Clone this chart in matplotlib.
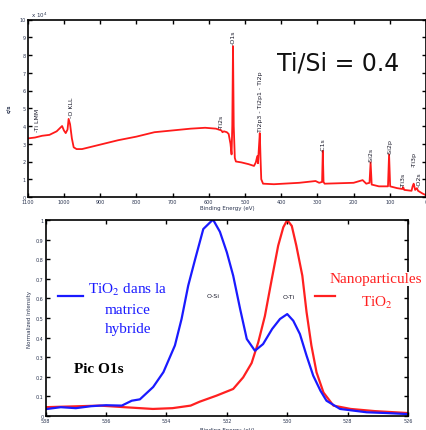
import matplotlib
matplotlib.use("Agg")
import matplotlib.pyplot as plt

# ---------------- data: survey spectrum (top) ----------------
survey_energy = [1100, 1080, 1060, 1040, 1020, 1010, 1005, 1000, 995, 990, 987, 983, 978, 973,
                 965, 950, 900, 850, 800, 750, 700, 650, 610, 580, 565, 562, 558, 550, 545,
                 540, 537, 535, 533, 531, 528, 525, 510, 490, 475, 470, 466, 464, 462, 459,
                 457, 455, 450, 420, 350, 305, 295, 287, 285, 283, 280, 200, 175, 165, 156,
                 153, 150, 130, 105, 102, 99, 80, 65, 63, 60, 40, 37, 34, 30, 25, 22, 10, 0]
survey_counts = [3.3, 3.35, 3.45, 3.5, 3.7, 3.9, 4.0, 3.75, 3.6, 3.8, 4.4, 4.1, 3.3, 2.8,
                 2.7, 2.7, 2.95, 3.2, 3.4, 3.65, 3.75, 3.85, 3.9, 3.85, 3.75, 3.65, 3.7, 3.65, 3.55,
                 3.0, 2.4, 4.0, 8.5, 4.0, 2.2, 2.0, 1.95, 1.85, 1.75, 1.95, 2.3, 1.9, 2.6, 3.6,
                 2.2, 1.0, 0.75, 0.72, 0.8, 0.9, 0.8, 0.85, 2.6, 0.85, 0.75, 0.8, 0.95, 0.75, 0.8,
                 1.95, 0.7, 0.6, 0.6, 2.4, 0.6, 0.5, 0.45, 0.55, 0.4, 0.35, 0.6, 0.75, 0.4, 0.5, 0.35, 0.2, 0.1]

peak_labels = ["-Ti LMM", "-O KLL", "-Ti2s", "-O1s", "Ti2p3 - Ti2p1 - Ti2p", "-C1s",
               "-Si2s", "-Si2p", "-Ti3s", "-Ti3p", "-O2s"]
peak_label_energy = [1074, 978, 565, 532, 458, 284, 152, 100, 63, 33, 18]
peak_label_height = [3.7, 4.5, 3.9, 8.6, 3.7, 2.6, 1.95, 2.4, 0.6, 1.75, 0.6]

survey_xticks = [1100, 1000, 900, 800, 700, 600, 500, 400, 300, 200, 100, 0]
survey_yticks = list(range(0, 11))

# ---------------- data: O1s high resolution (bottom) ----------------
blue_energy = [538.0, 537.5, 537.0, 536.5, 536.0, 535.48, 535.15, 534.88, 534.44, 534.1, 533.72,
               533.5, 533.28, 533.05, 532.78, 532.5, 532.45, 532.23, 532.0, 531.79, 531.56,
               531.34, 531.07, 530.8, 530.5, 530.24, 530.0, 529.8, 529.58, 529.36, 529.14,
               528.9, 528.7, 528.25, 527.37, 526.7, 526.04]
blue_int = [0.035, 0.045, 0.04, 0.05, 0.055, 0.053, 0.078, 0.085, 0.148, 0.224, 0.36,
            0.495, 0.665, 0.80, 0.954, 0.996, 1.0, 0.94, 0.835, 0.716, 0.546,
            0.393, 0.333, 0.367, 0.444, 0.495, 0.52, 0.486, 0.418, 0.308, 0.206,
            0.129, 0.078, 0.036, 0.019, 0.015, 0.01]

red_energy = [538.0, 536.2, 535.4, 534.45, 533.8, 533.2, 532.9, 532.34, 531.79, 531.46, 531.18,
              530.96, 530.74, 530.51, 530.3, 530.13, 530.0, 529.85, 529.7, 529.5, 529.36,
              529.2, 529.03, 528.8, 528.47, 527.9, 527.1, 526.0]
red_int = [0.045, 0.053, 0.045, 0.036, 0.04, 0.053, 0.073, 0.104, 0.138, 0.197, 0.27,
           0.376, 0.51, 0.70, 0.869, 0.963, 1.0, 0.97, 0.87, 0.716, 0.53,
           0.36, 0.223, 0.12, 0.053, 0.036, 0.025, 0.015]

o1s_xticks = [538, 536, 534, 532, 530, 528, 526]
o1s_yticks = [0, 0.1, 0.2, 0.3, 0.4, 0.5, 0.6, 0.7, 0.8, 0.9, 1.0]
o1s_yticklabels = ["0", "0.1", "0.2", "0.3", "0.4", "0.5", "0.6", "0.7", "0.8", "0.9", "1"]

# ---------------- figure ----------------
W, H = 427, 431
fig = plt.figure(figsize=(W / 100, H / 100), dpi=100)
fig.patch.set_facecolor("white")

tick_col = "#2b3550"
serif = ["Liberation Serif", "DejaVu Serif"]

def fx(px):
    return px / W

def fy(py):
    return 1 - py / H

# top axes
ax1 = fig.add_axes([fx(27.7), fy(198), (426 - 27.7) / W, (198 - 20.5) / H])
ax1.plot(survey_energy, survey_counts, color="#ff1a1a", lw=1.3)
ax1.set_xlim(1100, 0)
ax1.set_ylim(0, 10)
ax1.set_xticks(survey_xticks)
ax1.set_yticks(survey_yticks)
ax1.tick_params(direction="in", length=3, width=1, labelsize=3.5, colors="black",
                labelcolor=tick_col, top=True, right=True, pad=1.5)
for s in ax1.spines.values():
    s.set_linewidth(1.2)
ax1.set_xlabel("Binding Energy (eV)", fontsize=4, color=tick_col, labelpad=1)
ax1.set_ylabel("c/s", fontsize=4, color=tick_col, labelpad=6, fontweight="bold")
ax1.text(0.0, 1.005, "  x 10$^4$", transform=ax1.transAxes, fontsize=4, color=tick_col,
         ha="left", va="bottom")
for lab, e, h in zip(peak_labels, peak_label_energy, peak_label_height):
    ax1.text(e, h, lab, rotation=90, ha="center", va="bottom", fontsize=4.5,
             color="#1a1a2a")
ax1.text(0.78, 0.755, "Ti/Si = 0.4", fontsize=17, ha="center", va="center",
         color="#111111", transform=ax1.transAxes)

# bottom axes
ax2 = fig.add_axes([fx(45.7), fy(417), (408 - 45.7) / W, (417 - 221) / H])
ax2.plot(red_energy, red_int, color="#ff2020", lw=1.6)
ax2.plot(blue_energy, blue_int, color="#1a1aff", lw=1.6)
ax2.set_xlim(538, 526)
ax2.set_ylim(0, 1)
ax2.set_xticks(o1s_xticks)
ax2.set_yticks(o1s_yticks)
ax2.set_yticklabels(o1s_yticklabels)
ax2.tick_params(direction="in", length=3, width=1, labelsize=3.5, colors="black",
                labelcolor=tick_col, top=True, right=True, pad=1.5)
for s in ax2.spines.values():
    s.set_linewidth(1.2)
ax2.set_xlabel("Binding Energy (eV)", fontsize=4, color=tick_col, labelpad=3)
ax2.set_ylabel("Normalized Intensity", fontsize=4, color=tick_col, labelpad=3)

ax2.text(532.45, 0.615, "O-Si", fontsize=4.5, ha="center", va="center", color="#1a1a2a")
ax2.text(529.95, 0.61, "O-Ti", fontsize=4.5, ha="center", va="center", color="#1a1a2a")

# blue legend
fig.add_artist(plt.Line2D([fx(58), fx(83)], [fy(297), fy(297)], color="#1a1aff", lw=1.6))
fig.text(fx(128), fy(290), "TiO$_2$ dans la", fontsize=11, color="#1a1aff",
         ha="center", va="center", family=serif, math_fontfamily="stix")
fig.text(fx(128), fy(310), "matrice", fontsize=11, color="#1a1aff",
         ha="center", va="center", family=serif)
fig.text(fx(128), fy(329), "hybride", fontsize=11, color="#1a1aff",
         ha="center", va="center", family=serif)

# red legend
fig.add_artist(plt.Line2D([fx(315), fx(335)], [fy(297), fy(297)], color="#ff2020", lw=1.6))
fig.text(fx(376), fy(280), "Nanoparticules", fontsize=11, color="#ff2020",
         ha="center", va="center", family=serif,
         bbox=dict(facecolor="white", edgecolor="none", pad=0.5))
fig.text(fx(377), fy(303), "TiO$_2$", fontsize=11, color="#ff2020",
         ha="center", va="center", family=serif, math_fontfamily="stix",
         bbox=dict(facecolor="white", edgecolor="none", pad=0.5))

fig.text(fx(99), fy(370), "Pic O1s", fontsize=11, color="black", fontweight="bold",
         ha="center", va="center", family=serif)

fig.savefig("out.png", dpi=100)
